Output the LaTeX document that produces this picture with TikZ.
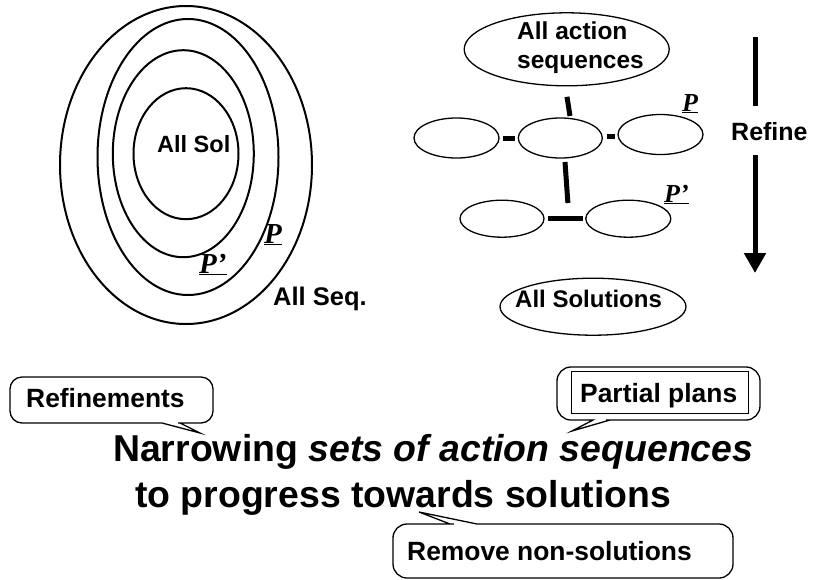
\documentclass[tikz,border=0pt]{standalone}
\usepackage{fontspec}
\setmainfont{Liberation Sans}
\newfontfamily\serifP{Liberation Serif}
\usetikzlibrary{shapes.geometric,arrows.meta,calc}
\begin{document}
\begin{tikzpicture}[x=1pt,y=-1pt,
  ell/.style={draw, ellipse, inner sep=0pt, outer sep=0pt},
  ringell/.style={ell, line width=2pt},
  thinell/.style={ell, line width=1.3pt},
  lbl/.style={inner sep=0pt, anchor=base west, font=\fontsize{24.5}{29}\selectfont\bfseries},
  plbl/.style={inner sep=0pt, anchor=base west, font=\fontsize{29}{32}\serifP\bfseries\itshape},
  splbl/.style={plbl, font=\fontsize{26}{30}\serifP\bfseries\itshape},
  bar/.style={line width=5pt},
  callout/.style={draw, line width=1.3pt},
  ctext/.style={inner sep=0pt, anchor=base west, font=\fontsize{26.4}{30}\selectfont\bfseries},
  mtext/.style={inner sep=0pt, anchor=base west, font=\fontsize{37.4}{42}\selectfont\bfseries},
]
\useasboundingbox (0,0) rectangle (814,579);

% ---- left: nested sets
\node[ringell, minimum width=252pt, minimum height=318pt] (seq) at (186,165) {};
\node[ringell, minimum width=181pt, minimum height=276pt] (pP)  at (188,157) {};
\node[ringell, minimum width=141pt, minimum height=207pt] (pPp) at (183.3,153.7) {};
\node[ringell, minimum width=105pt, minimum height=131pt] (sol) at (186,153.7) {};
\node[lbl, font=\fontsize{23.5}{28}\selectfont\bfseries] (solt) at (157,152) {All Sol};
\node[plbl] (Pl)  at (264,243) {\underline{P}};
\node[plbl] (Ppl) at (199,273) {\underline{P’}};
\node[lbl, font=\fontsize{25.5}{30}\selectfont\bfseries] (seqt) at (273,305) {All Seq.};

% ---- right: refinement tree
\node[thinell, minimum width=205pt, minimum height=73pt] (top) at (566.7,49.3) {};
\node[lbl] (topt1) at (517,39.3) {All action};
\node[lbl] (topt2) at (517,68.3) {sequences};
\node[thinell, minimum width=85pt, minimum height=40pt] (m1) at (456.5,138) {};
\node[thinell, minimum width=84pt, minimum height=40pt] (m2) at (560.3,138) {};
\node[thinell, minimum width=85pt, minimum height=40pt] (m3) at (660.5,134.5) {};
\node[thinell, minimum width=84pt, minimum height=37pt] (b1) at (502,218.7) {};
\node[thinell, minimum width=85pt, minimum height=37pt] (b2) at (628.3,218.7) {};
\node[thinell, minimum width=186pt, minimum height=57pt] (all) at (593,306.7) {};
\node[lbl, font=\fontsize{24}{28}\selectfont\bfseries] (allt) at (515,307) {All Solutions};
\node[splbl] (P2)  at (682,111) {\underline{P}};
\node[splbl] (Pp2) at (664,202) {\underline{P’}};

\draw[bar] ([xshift=0.3pt,yshift=-11pt]top.south) -- ([xshift=9.7pt,yshift=2pt]m2.north);
\draw[bar] ([xshift=-6pt]$(m1.east)!0.5!(m2.west)$) -- ([xshift=6pt]$(m1.east)!0.5!(m2.west)$);
\draw[bar] ([xshift=-3pt]$(m2.east)!0.5!(m3.west)$) -- ([xshift=5pt]$(m2.east)!0.5!(m3.west)$);
\draw[bar] ([xshift=4.7pt,yshift=-4pt]m2.south) -- ([xshift=3pt,yshift=15.7pt]$(b1.east)!0.5!(b2.west)$);
\draw[bar] ([xshift=4pt]b1.east) -- ([xshift=-3pt]b2.west);

% ---- refine arrow
\node[lbl, font=\fontsize{25}{30}\selectfont\bfseries] (rt) at (731,140) {Refine};
\coordinate (a1) at (755,37);
\coordinate (a2) at (755,106);
\coordinate (a3) at (755,155);
\coordinate (a4) at (755,273);
\draw[bar] (a1) -- (a2);
\draw[bar, -{Triangle[length=20pt,width=21pt]}] (a3) -- (a4);

% ---- callouts
\draw[callout] (10,400) [rounded corners=12pt] -- (10,377) -- (213,377) -- (213,423) -- (190,423)
  [sharp corners] -- (180,423) -- (200,433) -- (162,423) -- (150,423)
  [rounded corners=12pt] -- (10,423) -- cycle;
\node[ctext] (reft) at (26,407.7) {Refinements};

\draw[callout] (557,393) [rounded corners=14pt] -- (557,367) -- (760,367) -- (760,420) -- (620,420)
  [sharp corners] -- (610,420) -- (572,431) -- (593,420) -- (583,420)
  [rounded corners=14pt] -- (557,420) -- cycle;
\draw[line width=0.8pt] (571,371) rectangle (748,413);
\node[ctext] (ppt) at (580,402.3) {Partial plans};

\draw[callout] (393,550) [rounded corners=14pt] -- (393,524) -- (440,524)
  [sharp corners] -- (450,524) -- (419,512) -- (477,524) -- (487,524)
  [rounded corners=14pt] -- (733,524) -- (733,578) -- (393,578) -- cycle;
\node[ctext] (rmt) at (407,560) {Remove non-solutions};

% ---- main text
\node[mtext] (line1) at (113,461) {Narrowing \textit{sets of action sequences}};
\node[mtext] (line2) at (135,507) {to progress towards solutions};
\end{tikzpicture}
\end{document}
